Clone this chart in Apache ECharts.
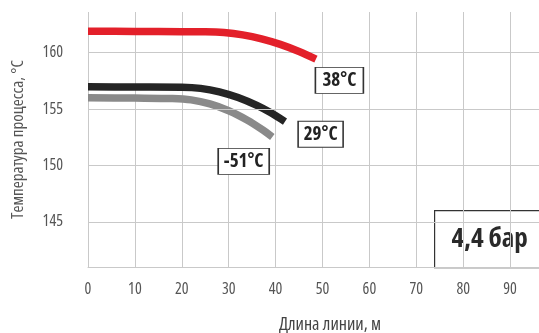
<!DOCTYPE html>
<html>
<head>
<meta charset="utf-8">
<script src="https://cdn.jsdelivr.net/npm/echarts@6/dist/echarts.min.js"></script>
<style>
  html, body { margin: 0; padding: 0; background: #fff; }
  #chart { width: 539px; height: 333px; }
</style>
</head>
<body>
<div id="chart"></div>
<script>
// Process temperature vs. line length at 4.4 bar, for three ambient temperatures
const FONT = "'Open Sans', sans-serif";
const NARROW = 'condensed';   // goes into the canvas font string as font-stretch

const series38 = [[0, 161.9], [10, 161.88], [20, 161.86], [25, 161.85], [29, 161.78], [33, 161.57], [37, 161.22], [41, 160.73], [45, 160.1], [48.6, 159.42]];
const series29 = [[0, 156.97], [10, 156.95], [20, 156.93], [24, 156.83], [28, 156.53], [32, 156.02], [36, 155.32], [39, 154.66], [42, 153.88]];
const seriesMinus51 = [[0, 156.0], [10, 155.97], [18, 155.93], [22, 155.81], [26, 155.45], [30, 154.85], [34, 154.01], [37, 153.22], [39.3, 152.53]];

const labelTexts = ['38°C', '29°C', '-51°C'];
const labelAnchors = [[53.6, 157.54], [49.6, 152.76], [33.2, 150.36]];
const labelBoxSizes = [[48, 26], [45, 26], [51, 26]];

const yTickLabels = [145, 150, 155, 160];
const pressureText = '4,4 бар';
const xTitle = 'Длина линии, м';
const yTitle = 'Температура процесса, °C';

const colors = ['#e3202a', '#252525', '#8a8a8a'];
const dataSets = [series38, series29, seriesMinus51];
const gridColor = '#c9c9c9';

const chart = echarts.init(document.getElementById('chart'), null, { renderer: 'canvas' });

const lineSeries = dataSets.map((d, i) => ({
  type: 'line',
  data: d,
  smooth: 0.3,
  symbol: 'none',
  lineStyle: { color: colors[i], width: 7.5, cap: 'butt' },
  z: 5 - i,
  markPoint: {
    symbol: 'rect',
    symbolSize: labelBoxSizes[i],
    itemStyle: { color: '#fff', borderColor: '#333', borderWidth: 1.2 },
    label: {
      show: true,
      formatter: labelTexts[i],
      color: '#222',
      fontFamily: FONT,
      fontStyle: NARROW,
      fontWeight: 'bold',
      fontSize: 19
    },
    data: [{ coord: labelAnchors[i] }],
    z: 10
  }
}));

// horizontal gridlines at labelled ticks, plus the vertical axis line
lineSeries.push({
  type: 'line',
  data: [],
  markLine: {
    silent: true,
    symbol: 'none',
    label: { show: false },
    lineStyle: { color: gridColor, width: 1, type: 'solid' },
    data: yTickLabels.map(v => ({ yAxis: v })).concat([
      [{ coord: [0, 162.8], lineStyle: { width: 2, color: '#c4c4c4' } }, { coord: [0, 140.25] }]
    ])
  },
  z: 1
});

chart.setOption({
  animation: false,
  grid: { left: 88, right: -18, top: 12, bottom: 66, containLabel: false, outerBoundsMode: 'none' },
  xAxis: {
    type: 'value',
    min: 0, max: 100, interval: 10,
    name: xTitle,
    nameLocation: 'middle',
    nameGap: 49,
    nameTextStyle: { fontFamily: FONT, fontStyle: NARROW, fontSize: 18, color: '#444', padding: [0, 0, 0, 15] },
    axisLine: { show: true, lineStyle: { color: gridColor, width: 1 } },
    axisTick: { show: false },
    axisLabel: { fontFamily: FONT, fontStyle: NARROW, fontSize: 16, color: '#555', margin: 14 },
    splitLine: { show: true, lineStyle: { color: gridColor, width: 1 } }
  },
  yAxis: {
    type: 'value',
    min: 141, max: 163.6, interval: 1,
    name: yTitle,
    nameLocation: 'middle',
    nameGap: 53,
    nameTextStyle: { fontFamily: FONT, fontStyle: NARROW, fontSize: 17, color: '#555', padding: [0, 0, 8, 0] },
    axisLine: { show: false },
    axisTick: { show: false },
    axisLabel: {
      fontFamily: FONT, fontStyle: NARROW, fontSize: 16, color: '#555', margin: 25,
      formatter: v => (Math.abs(v % 5) < 1e-6 ? String(v) : '')
    },
    splitLine: { show: false }
  },
  graphic: [{
    type: 'group',
    left: 434, top: 210,
    children: [{
      type: 'rect',
      shape: { x: 0, y: 0, width: 120, height: 57 },
      style: { fill: '#fff', stroke: '#333', lineWidth: 1.2 }
    }, {
      type: 'text',
      x: 55, y: 29,
      style: {
        text: pressureText,
        fontFamily: FONT, fontStyle: NARROW, fontWeight: 'bold', fontSize: 27,
        fill: '#2a2a2a', align: 'center', verticalAlign: 'middle'
      }
    }],
    z: 20
  }],
  series: lineSeries
});
</script>
</body>
</html>
